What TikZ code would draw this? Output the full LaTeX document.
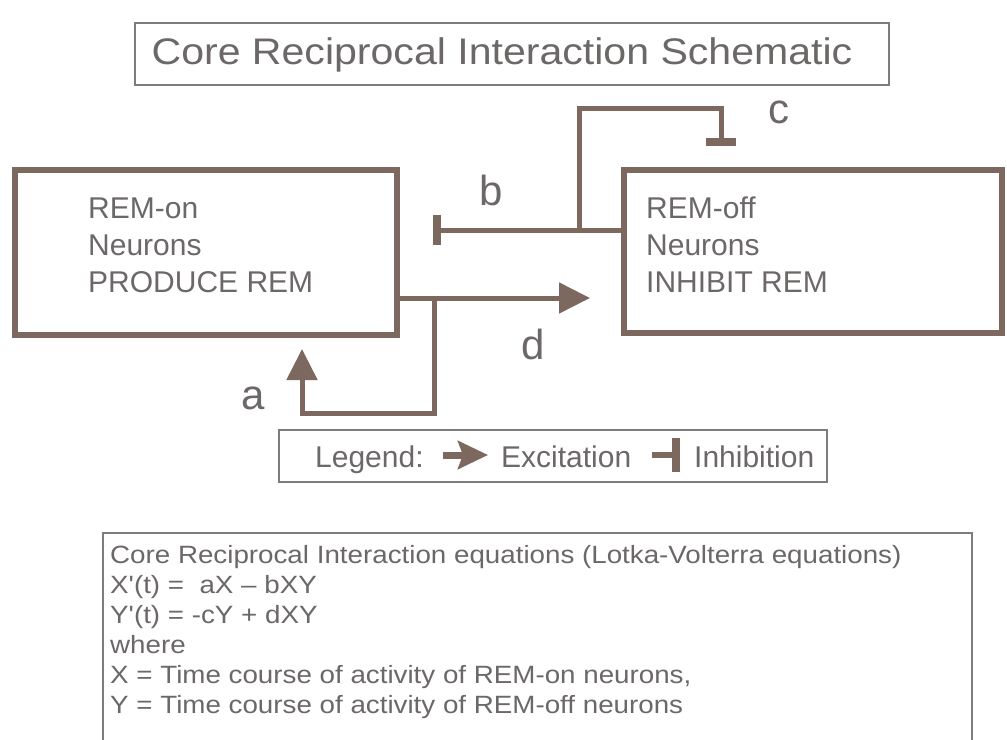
\documentclass[tikz,border=0pt]{standalone}
\usepackage{fontspec}
\setmainfont{Liberation Sans}
\usetikzlibrary{arrows.meta}
\definecolor{wire}{RGB}{124,104,94}
\definecolor{ink}{RGB}{108,104,104}
\definecolor{frame}{RGB}{125,125,125}
\tikzset{
  thinbox/.style={draw=frame, line width=1.3bp, minimum width=#1, inner sep=0pt},
  cellbox/.style={draw=wire, line width=6bp, inner sep=0pt},
  wireline/.style={draw=wire, line width=5bp},
  excite/.style={wireline, -{Triangle[length=31bp, width=30bp]}},
  inhibit/.style={wireline, -{Bar[width=30bp, line width=8bp]}},
  txt/.style={text=ink, inner sep=0pt, anchor=base west},
  lbl/.style={text=ink, inner sep=0pt, font=\fontsize{42bp}{42bp}\selectfont},
}
\begin{document}
\begin{tikzpicture}[x=1bp, y=-1bp]
\useasboundingbox (0,0) rectangle (1007,740);
\clip (0,0) rectangle (1007,740);
\fill[white] (0,0) rectangle (1007,740);

% title
\node[thinbox=754bp, minimum height=62bp] (title) at (512,54) {};
\node[text=ink, inner sep=0pt, anchor=base] (titletxt) at (502,65)
  {\scalebox{1.11}[1]{\fontsize{37bp}{44bp}\selectfont Core Reciprocal Interaction Schematic}};

% the two neuron populations
\node[cellbox, minimum width=382bp, minimum height=165bp] (on) at (206,252.5) {};
\node[cellbox, minimum width=378bp, minimum height=163bp] (off) at (813,251.5) {};
\node[txt] (ontxt) at (88,218) {\fontsize{30bp}{37bp}\selectfont
  \begin{tabular}[t]{@{}l@{}}REM-on\\Neurons\\PRODUCE REM\end{tabular}};
\node[txt] (offtxt) at (646,218) {\fontsize{30bp}{37bp}\selectfont
  \begin{tabular}[t]{@{}l@{}}REM-off\\Neurons\\INHIBIT REM\end{tabular}};

% junctions and free ends of the connectors
\coordinate (dsplit) at (434,298);
\coordinate (dtip) at (590,298);
\coordinate (abot) at (434,413);
\coordinate (acorner) at (302,413);
\coordinate (atip) at (302,349);
\coordinate (bsplit) at (579,230);
\coordinate (btip) at (433,230);
\coordinate (ctop1) at (579,108);
\coordinate (ctop2) at (721,108);
\coordinate (ctip) at (721,146);

% d: REM-on excites REM-off
\draw[excite] (on.east |- dsplit) -- (dtip);
% a: REM-on excites itself
\draw[excite] (dsplit) -- (abot) -- (acorner) -- (atip);
% b: REM-off inhibits REM-on
\draw[inhibit] (off.west |- bsplit) -- (btip);
% c: REM-off inhibits itself
\draw[inhibit] (bsplit) -- (ctop1) -- (ctop2) -- (ctip);

\node[lbl] (la) at (253,398) {a};
\node[lbl] (lb) at (491,190) {b};
\node[lbl] (lc) at (779,112) {c};
\node[lbl] (ld) at (533,344) {d};

% legend
\node[thinbox=548bp, minimum height=52bp] (legend) at (553,456) {};
\node[txt] (legtxt) at (315,467) {\fontsize{30bp}{36bp}\selectfont Legend:};
\coordinate (ex1) at (443,455);
\coordinate (ex2) at (488,455);
\draw[draw=wire, line width=7bp, -{Stealth[length=30bp, width=28bp, inset=5bp]}] (ex1) -- (ex2);
\node[txt] (extxt) at (501,467) {\fontsize{30bp}{36bp}\selectfont Excitation};
\coordinate (in1) at (652,455);
\coordinate (in2) at (680,455);
\draw[draw=wire, line width=6bp, -{Bar[width=34bp, line width=8bp]}] (in1) -- (in2);
\node[txt] (intxt) at (694,467) {\fontsize{30bp}{36bp}\selectfont Inhibition};

% equations
\node[thinbox=869bp, minimum height=214bp] (eqbox) at (537.5,640) {};
\node[txt] (eqtxt) at (110,563) {\scalebox{1.11}[1]{\fontsize{25bp}{30bp}\selectfont
  \begin{tabular}[t]{@{}l@{}}
  Core Reciprocal Interaction equations (Lotka-Volterra equations)\\
  X\textquotesingle(t) =\ \ aX -- bXY\\
  Y\textquotesingle(t) = -cY + dXY\\
  where\\
  X = Time course of activity of REM-on neurons,\\
  Y = Time course of activity of REM-off neurons
  \end{tabular}}};
\end{tikzpicture}
\end{document}
